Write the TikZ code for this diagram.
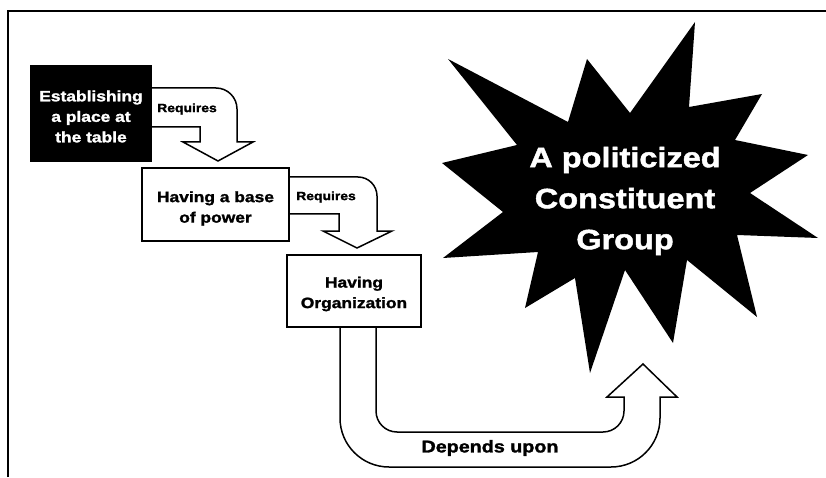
\documentclass[tikz,border=0pt]{standalone}
\usepackage{fontspec}
\newfontfamily\heavy{Liberation Sans}[FakeStretch=1.16,FakeBold=1.6]
\begin{document}
\begin{tikzpicture}[x=1pt,y=1pt,
  boxtext/.style={font=\heavy\bfseries\fontsize{15}{20.5}\selectfont, align=center, inner sep=0pt},
  wbox/.style={draw=black, line width=2pt, fill=white, inner sep=0pt},
  bbox/.style={draw=black, line width=2pt, fill=black, inner sep=0pt},
  band/.style={draw=black, line width=1.5pt, fill=white, line join=miter},
  lbl/.style={font=\heavy\bfseries\fontsize{12}{14}\selectfont, inner sep=0pt},
  biglbl/.style={font=\heavy\bfseries\fontsize{17}{20}\selectfont, inner sep=0pt},
  startext/.style={font=\heavy\bfseries\fontsize{28}{41}\selectfont, text=white, align=center, inner sep=0pt}]
\useasboundingbox (0,0) rectangle (826,477);
\fill[white] (0,0) rectangle (826,477);

% page frame
\draw[line width=2.2pt] (8,0) -- (8,466) -- (826,466);

% burst
\fill[black] (695,455) -- (689,370) -- (762,383) -- (735,337) -- (808,322)
  -- (750,284) -- (818,239) -- (737,242) -- (757,160) -- (687,217)
  -- (673,134) -- (625,207) -- (590,104) -- (575,199) -- (525,169)
  -- (538,225) -- (443,219) -- (503,265) -- (442,314) -- (517,332)
  -- (448,418) -- (568,355) -- (587,418) -- (630,364) -- cycle;
\node[startext] (goal) at (625,276) {A politicized\\Constituent\\Group};

% bent block arrows
\draw[band] (150,389) -- (216,389) arc[start angle=90,end angle=0,radius=21]
  -- (237,335) -- (253,335) -- (218,316) -- (183,335) -- (200,335)
  -- (200,350) -- (150,350) -- cycle;
\draw[band] (288,300) -- (358,300) arc[start angle=90,end angle=0,radius=19]
  -- (377,246) -- (392,246) -- (357,229) -- (323,246) -- (339,246)
  -- (339,263) -- (288,263) -- cycle;
\draw[band] (340,150) -- (340,59) arc[start angle=180,end angle=270,radius=49]
  -- (611,10) arc[start angle=270,end angle=360,radius=49]
  -- (660,80) -- (677,80) -- (643,113) -- (607,80) -- (624,80)
  -- (624,66) arc[start angle=0,end angle=-90,radius=21]
  -- (397,45) arc[start angle=270,end angle=180,radius=21]
  -- (376,150) -- cycle;

% boxes
\node[bbox, minimum width=120, minimum height=95] (b1) at (91,363.5) {};
\node[boxtext, text=white] (b1t) at (91,360.5) {Establishing\\a place at\\the table};
\node[wbox, minimum width=147, minimum height=73] (b2) at (215.5,272.5) {};
\node[boxtext] (b2t) at (215.5,268.5) {Having a base\\of power};
\node[wbox, minimum width=134, minimum height=72] (b3) at (354,186) {};
\node[boxtext] (b3t) at (354,183) {Having\\Organization};

% arrow labels
\node[lbl] (r1) at (187,368) {Requires};
\node[lbl] (r2) at (326,280) {Requires};
\node[biglbl] (dep) at (490,29) {Depends upon};
\end{tikzpicture}
\end{document}
